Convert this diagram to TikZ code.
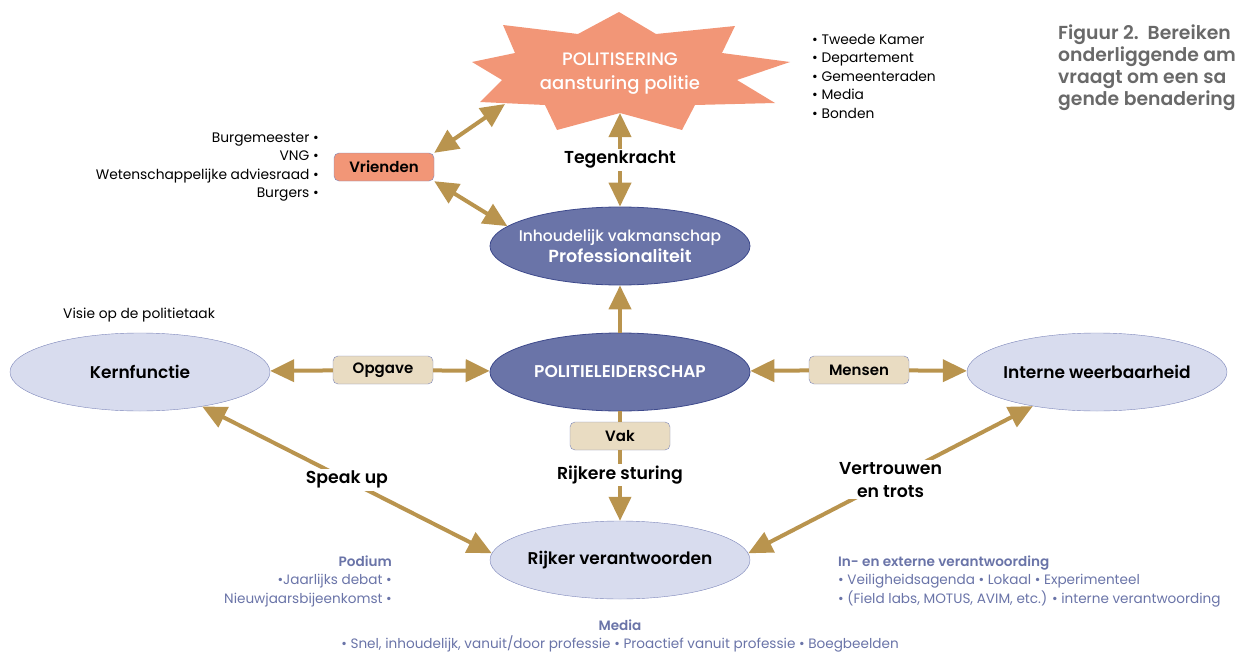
\documentclass[tikz,border=0pt]{standalone}
\usepackage{fontspec}
\setmainfont{Poppins}
\newfontfamily\medium{Poppins SemiBold}
\newfontfamily\halfvet{Poppins Medium}
\usetikzlibrary{shapes.geometric,arrows.meta}

\definecolor{goud}{RGB}{185,148,78}
\definecolor{zalm}{RGB}{242,150,119}
\definecolor{paars}{RGB}{106,116,168}
\definecolor{paarsrand}{RGB}{62,74,140}
\definecolor{lila}{RGB}{216,220,238}
\definecolor{lilarand}{RGB}{125,134,186}
\definecolor{beige}{RGB}{233,220,194}
\definecolor{grijs}{RGB}{105,105,105}

\begin{document}
\begin{tikzpicture}[x=1pt,y=-1pt,
  pijl/.style={goud,line width=4pt,-{Triangle[length=24pt,width=22pt]}},
  dubbel/.style={goud,line width=4pt,{Triangle[length=24pt,width=22pt]}-{Triangle[length=24pt,width=22pt]}},
  donker/.style={ellipse,draw=paarsrand,thick,fill=paars,text=white,minimum width=260pt,minimum height=78pt,inner sep=0pt,inner xsep=-30pt,font=\medium\fontsize{17}{21}\selectfont},
  licht/.style={ellipse,draw=lilarand,fill=lila,minimum width=260pt,minimum height=78pt,inner sep=0pt,inner xsep=-30pt,font=\medium\fontsize{17}{21}\selectfont},
  kader/.style={draw=lilarand,rounded corners=5pt,fill=beige,minimum width=100pt,minimum height=28pt,inner sep=0pt,font=\medium\fontsize{15}{18}\selectfont},
  etiket/.style={fill=white,text=black,inner sep=2pt,font=\medium\fontsize{17.3}{23}\selectfont,align=center},
  lijst/.style={font=\fontsize{13.8}{18.5}\selectfont,inner sep=0pt},
  blauw/.style={text=paars,font=\fontsize{13.6}{18.5}\selectfont,inner sep=0pt}]
	\useasboundingbox (0,0) rectangle (1235,653);
	\clip (0,0) rectangle (1235,653);
	
	% ster
	\fill[zalm] (619,12) -- (656,34) -- (735,26) -- (722,53) -- (790,62) -- (737,80) -- (775,103)
		-- (695,105) -- (682,130) -- (620,113) -- (557,130) -- (545,105) -- (480,102) -- (502,80)
		-- (472,62) -- (515,53) -- (503,25) -- (578,34) -- cycle;
	\coordinate (sterL) at (505,104);
	\coordinate (sterO) at (620,113);
	\node[text=white,align=center,font=\halfvet\fontsize{18}{24}\selectfont] (politisering) at (620,74) {POLITISERING\\aansturing politie};
	
	% ellipsen
	\node[donker,align=center] (inhoud) at (620,246) {\halfvet\fontsize{15.5}{21}\selectfont Inhoudelijk vakmanschap\\\medium\fontsize{17.5}{21}\selectfont Professionaliteit};
	\node[donker] (leider) at (620,372) {POLITIELEIDERSCHAP};
	\node[licht] (kern) at (140,372) {Kernfunctie};
	\node[licht] (intern) at (1097,372) {Interne weerbaarheid};
	\node[licht] (rijker) at (620,560) {Rijker verantwoorden};
	
	% kaders
	\node[kader,fill=zalm] (vrienden) at (384,167) {Vrienden};
	\node[kader] (opgave) at (383,370) {Opgave};
	\node[kader] (mensen) at (859,370) {Mensen};
	\node[kader] (vak) at (620,436) {Vak};
	
	% pijlen
	\draw[dubbel] (vrienden.north east) -- (sterL);
	\draw[dubbel] (vrienden.south east) -- (inhoud.170);
	\draw[dubbel] (inhoud.north) -- node[etiket] {Tegenkracht} (sterO);
	\draw[pijl] (leider) -- (inhoud);
	\draw[pijl] (opgave) -- (kern);
	\draw[pijl] (opgave) -- (leider);
	\draw[pijl] (mensen) -- (leider);
	\draw[pijl] (mensen) -- (intern);
	\draw[goud,line width=4pt] (leider) -- (vak);
	\draw[pijl] (vak) -- node[etiket,pos=0.35] {Rijkere sturing} (rijker);
	\draw[dubbel] (kern.-29) -- node[etiket] {Speak up} (rijker.177);
	\draw[dubbel] (intern.208) -- node[etiket] {Vertrouwen\\en trots} (rijker.3);
	
	% lijsten
	\node[lijst,anchor=east,align=right] (vriendenlijst) at (319,167) {Burgemeester •\\VNG •\\Wetenschappelijke adviesraad •\\Burgers •};
	\node[lijst,anchor=west,align=left] (kamerlijst) at (812,76) {• Tweede Kamer\\• Departement\\• Gemeenteraden\\• Media\\• Bonden};
	\node[lijst,anchor=west] (visie) at (63,315) {Visie op de politietaak};
	\node[anchor=north west,align=left,text=grijs,inner sep=0pt,font=\medium\fontsize{18.8}{22}\selectfont] (figuur) at (1058,25) {Figuur 2.\ \ Bereiken\\onderliggende am\\vraagt om een sa\\gende benadering};
	
	% verantwoording
	\node[blauw,anchor=east,align=right] (podium) at (392,581) {{\medium Podium}\\•Jaarlijks debat •\\Nieuwjaarsbijeenkomst •};
	\node[blauw,anchor=west,align=left] (extern) at (838,581) {{\medium In- en externe verantwoording}\\• Veiligheidsagenda • Lokaal • Experimenteel\\• (Field labs, MOTUS, AVIM, etc.) • interne verantwoording};
	\node[blauw,align=center] (media) at (620,636) {{\medium Media}\\• Snel, inhoudelijk, vanuit/door professie • Proactief vanuit professie • Boegbeelden};
\end{tikzpicture}
\end{document}
